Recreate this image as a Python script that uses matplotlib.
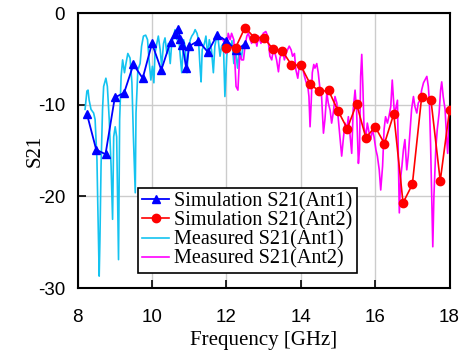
import matplotlib
matplotlib.use("Agg")
import matplotlib.pyplot as plt

# Simulation S21 (Ant1)
sim1_f = [8.25, 8.5, 8.75, 9.0, 9.25, 9.5, 9.75, 10.0, 10.25, 10.5, 10.62, 10.7,
          10.76, 10.82, 10.92, 11.0, 11.25, 11.5, 11.75, 12.0, 12.25, 12.5]
sim1_s = [-11.0, -14.9, -15.4, -9.2, -8.7, -5.6, -7.1, -3.3, -6.2, -3.1, -2.3, -1.7,
          -2.8, -3.5, -6.0, -3.6, -3.0, -4.25, -2.4, -3.0, -4.0, -3.4]

# Simulation S21 (Ant2)
sim2_f = [12.0, 12.25, 12.5, 12.75, 13.0, 13.25, 13.5, 13.75, 14.0, 14.25, 14.5, 14.75,
          15.0, 15.25, 15.5, 15.75, 16.0, 16.25, 16.5, 16.75, 17.0, 17.25, 17.5, 17.75, 18.0]
sim2_s = [-3.75, -3.75, -1.57, -2.66, -2.66, -3.9, -4.1, -5.64, -5.7, -7.7, -8.55, -8.44,
          -10.65, -12.6, -9.9, -13.6, -12.4, -14.25, -11.0, -20.7, -18.7, -9.16, -9.45, -18.3, -10.6]

# Measured S21 (Ant1)
meas1_f = [8.20, 8.25, 8.28, 8.31, 8.36, 8.43, 8.47, 8.52, 8.54, 8.58, 8.60, 8.63,
           8.67, 8.70, 8.76, 8.80, 8.85, 8.90, 8.94, 8.97, 9.01, 9.05, 9.10, 9.13,
           9.17, 9.21, 9.26, 9.30, 9.35, 9.41, 9.46, 9.50, 9.55, 9.57, 9.62, 9.68,
           9.72, 9.77, 9.83, 9.88, 9.92, 9.97, 10.01, 10.05, 10.08, 10.13, 10.17, 10.22,
           10.26, 10.31, 10.35, 10.40, 10.44, 10.49, 10.53, 10.58, 10.62, 10.67, 10.71, 10.76,
           10.80, 10.85, 10.89, 10.94, 10.98, 11.03, 11.07, 11.12, 11.16, 11.21, 11.25, 11.29,
           11.32, 11.35, 11.41, 11.45, 11.50, 11.54, 11.60, 11.65, 11.69, 11.74, 11.78, 11.83,
           11.87, 11.92, 11.96, 12.01, 12.05, 12.10, 12.15, 12.20, 12.25, 12.30, 12.35, 12.40, 12.45]
meas1_s = [-10.5, -8.5, -8.4, -9.5, -10.5, -10.9, -11.6, -16.0, -20.4, -28.7, -24.7, -16.7,
           -10.5, -8.0, -7.1, -8.0, -11.6, -16.7, -22.5, -13.5, -12.4, -13.5, -26.9, -11.6,
           -6.9, -5.1, -6.5, -5.5, -4.4, -4.9, -7.6, -13.5, -19.6, -10.9, -6.2, -5.5,
           -3.6, -2.5, -2.4, -2.9, -5.1, -7.3, -5.8, -7.6, -4.4, -3.3, -2.5, -4.0,
           -5.8, -3.3, -2.7, -4.4, -3.3, -5.5, -3.3, -2.5, -1.8, -2.9, -2.2, -4.7,
           -6.5, -2.9, -3.6, -6.5, -4.0, -2.9, -2.5, -2.2, -1.8, -2.2, -2.9, -5.8,
           -7.5, -4.0, -3.3, -2.5, -4.7, -2.9, -4.0, -6.5, -3.6, -2.5, -2.9, -4.7,
           -3.6, -3.3, -9.1, -4.7, -3.3, -4.0, -3.0, -5.5, -4.2, -6.0, -3.8, -5.0, -3.5]

# Measured S21 (Ant2)
meas2_f = [11.88, 11.95, 11.99, 12.05, 12.10, 12.14, 12.20, 12.26, 12.31, 12.36, 12.41, 12.46,
           12.50, 12.55, 12.59, 12.64, 12.68, 12.75, 12.82, 12.86, 12.93, 12.99, 13.06, 13.11,
           13.17, 13.22, 13.26, 13.31, 13.35, 13.40, 13.44, 13.51, 13.56, 13.62, 13.69, 13.74,
           13.78, 13.83, 13.87, 13.92, 13.96, 14.01, 14.05, 14.10, 14.14, 14.19, 14.22, 14.25,
           14.28, 14.31, 14.35, 14.38, 14.43, 14.47, 14.52, 14.56, 14.61, 14.65, 14.70, 14.74,
           14.79, 14.83, 14.88, 14.92, 14.97, 15.01, 15.06, 15.10, 15.15, 15.19, 15.24, 15.28,
           15.33, 15.37, 15.41, 15.46, 15.50, 15.55, 15.58, 15.61, 15.64, 15.67, 15.70, 15.75,
           15.79, 15.84, 15.88, 15.93, 15.97, 16.02, 16.06, 16.11, 16.15, 16.20, 16.24, 16.28,
           16.33, 16.37, 16.42, 16.46, 16.51, 16.55, 16.60, 16.62, 16.65, 16.69, 16.72, 16.76,
           16.80, 16.85, 16.89, 16.94, 16.98, 17.03, 17.07, 17.12, 17.16, 17.21, 17.25, 17.30,
           17.34, 17.39, 17.43, 17.46, 17.49, 17.52, 17.55, 17.58, 17.63, 17.67, 17.72, 17.76,
           17.79, 17.83, 17.88, 17.92, 17.95, 17.99]
meas2_s = [-2.7, -3.3, -4.4, -2.2, -2.9, -2.2, -2.9, -8.0, -8.4, -4.4, -5.1, -5.1,
           -3.6, -2.5, -2.2, -2.9, -3.3, -2.4, -3.6, -2.5, -3.3, -2.2, -2.0, -2.5,
           -4.7, -5.1, -4.0, -4.4, -5.1, -6.4, -4.9, -4.0, -5.1, -4.2, -3.6, -4.0,
           -4.7, -4.4, -6.2, -7.1, -5.8, -5.6, -6.0, -6.9, -7.5, -8.0, -9.1, -12.4,
           -9.8, -6.5, -5.6, -6.0, -5.5, -6.5, -8.4, -9.1, -13.1, -11.6, -8.7, -9.8,
           -10.6, -12.0, -10.7, -9.1, -9.8, -11.6, -13.8, -15.6, -13.5, -12.0, -12.7, -11.3,
           -13.5, -15.3, -10.5, -8.4, -10.5, -16.4, -14.9, -6.9, -4.5, -8.0, -12.4, -13.5,
           -12.0, -13.1, -13.8, -12.7, -13.5, -14.9, -15.6, -17.1, -19.3, -16.7, -12.7, -11.3,
           -12.0, -11.3, -10.2, -7.3, -10.5, -10.5, -9.5, -14.9, -21.8, -17.8, -16.7, -14.9,
           -13.8, -17.1, -15.6, -12.7, -10.5, -9.1, -10.2, -10.9, -9.8, -9.5, -8.4, -7.6,
           -7.3, -6.9, -8.0, -9.8, -14.2, -19.6, -25.5, -20.0, -14.9, -12.7, -10.9, -8.4,
           -7.5, -9.1, -10.5, -13.5, -15.3, -11.6]

x_ticks = [8, 10, 12, 14, 16, 18]
y_ticks = [0, -10, -20, -30]
y_labels = ["0", "-10", "-20", "-30"]

fig = plt.figure(figsize=(4.62, 3.56), dpi=100)
ax = fig.add_axes([0.168, 0.191, 0.805, 0.772])

l1, = ax.plot(sim1_f, sim1_s, color="#0000FF", marker="^", markersize=6, lw=1.3, zorder=4,
              label="Simulation S21(Ant1)")
l2, = ax.plot(sim2_f, sim2_s, color="#FF0000", marker="o", markersize=6, lw=1.2, zorder=4,
              label="Simulation S21(Ant2)")
l3, = ax.plot(meas1_f, meas1_s, color="#14C3F0", lw=1.2, zorder=2,
              label="Measured S21(Ant1)")
l4, = ax.plot(meas2_f, meas2_s, color="#FF00FF", lw=1.2, zorder=2,
              label="Measured S21(Ant2)")

ax.set_xlim(8, 18)
ax.set_ylim(-30, 0)
ax.set_xticks(x_ticks)
ax.set_yticks(y_ticks)
ax.set_yticklabels(y_labels)
ax.grid(True, color="#cccccc", lw=1.0, zorder=0)
ax.set_axisbelow(True)
ax.tick_params(direction="in", length=6, width=1.2, labelsize=13.5)
ax.tick_params(axis="x", pad=15)
ax.tick_params(axis="y", pad=9)
for lab in ax.get_xticklabels() + ax.get_yticklabels():
    lab.set_family("Liberation Sans")
for sp in ax.spines.values():
    sp.set_linewidth(1.5)

ax.set_xlabel("Frequency [GHz]", family="Liberation Serif", fontsize=15)
ax.set_ylabel("S21", family="Liberation Serif", fontsize=15)
ax.xaxis.set_label_coords(0.5, -0.155)
ax.yaxis.set_label_coords(-0.09, 0.5)

leg = ax.legend(handles=[l1, l2, l3, l4], loc="lower left", bbox_to_anchor=(0.163, 0.055),
                prop={"family": "Liberation Serif", "size": 14.5}, frameon=True, fancybox=False,
                framealpha=1, edgecolor="black", borderpad=0.2, labelspacing=0.0,
                handlelength=1.35, handletextpad=0.25, borderaxespad=0)
leg.get_frame().set_linewidth(1.2)

fig.savefig("out.png", dpi=100)
